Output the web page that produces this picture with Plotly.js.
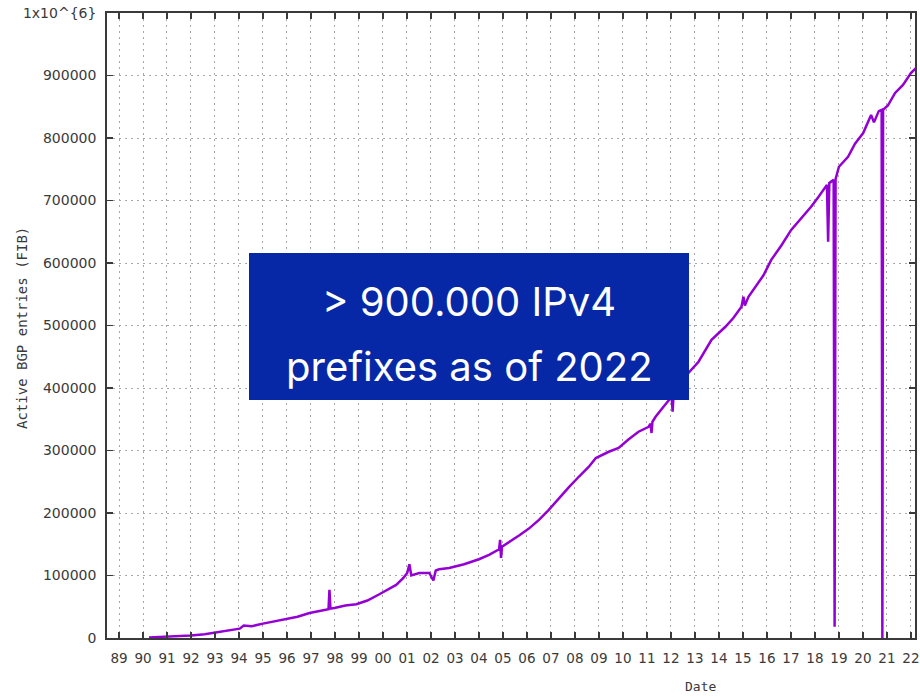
<!DOCTYPE html>
<html>
<head>
<meta charset="utf-8">
<script src="https://cdn.plot.ly/plotly-3.0.1.min.js"></script>
<style>html,body{margin:0;padding:0;background:#fff;}#chart{width:920px;height:697px;}</style>
</head>
<body>
<div id="chart"></div>
<script>
// Date in decimal years
const dates = [1990.25,1990.91,1992.0,1992.57,1993.03,1993.6,1994.03,1994.2,1994.53,1995.0,1995.5,1995.98,1996.44,1996.94,1997.44,1997.73,1997.77,1997.81,1997.98,1998.43,1998.89,1999.35,1999.85,2000.26,2000.55,2000.85,2001.01,2001.1,2001.18,2001.51,2001.93,2002.1,2002.2,2002.34,2002.76,2003.38,2004.0,2004.42,2004.84,2004.88,2004.92,2004.96,2005.25,2005.67,2006.08,2006.5,2006.91,2007.33,2007.74,2008.16,2008.58,2008.87,2009.41,2009.82,2010.24,2010.65,2011.07,2011.15,2011.19,2011.23,2011.36,2011.69,2012.03,2012.07,2012.11,2012.73,2013.15,2013.69,2013.98,2014.27,2014.6,2014.94,2015.02,2015.08,2015.23,2015.52,2015.85,2016.18,2016.6,2017.01,2017.43,2017.84,2018.13,2018.42,2018.5,2018.55,2018.6,2018.78,2018.82,2018.86,2019.0,2019.38,2019.67,2020.01,2020.34,2020.46,2020.66,2020.78,2020.81,2020.84,2021.04,2021.34,2021.67,2022.0,2022.21];
const entries = [1000,2000,4000,6000,9000,12000,15000,20000,19000,23000,27000,30000,34000,40000,44000,46000,77000,47000,48000,52000,54000,60000,70000,78000,85000,96000,104000,118000,100000,104000,104000,92000,108000,110000,112000,118000,126000,133000,142000,157000,128000,146000,153000,164000,175000,189000,205000,224000,241000,258000,274000,288000,298000,304000,318000,330000,338000,343000,328000,346000,354000,370000,386000,362000,390000,424000,442000,477000,487000,498000,512000,530000,546000,532000,546000,562000,580000,605000,628000,653000,672000,690000,705000,720000,725000,634000,728000,733000,18000,734000,754000,770000,791000,808000,837000,825000,843000,845000,0,845000,852000,872000,885000,904000,912000];

const yearTicks = [1989,1990,1991,1992,1993,1994,1995,1996,1997,1998,1999,2000,2001,2002,2003,2004,2005,2006,2007,2008,2009,2010,2011,2012,2013,2014,2015,2016,2017,2018,2019,2020,2021,2022];
const yearLabels = ["89","90","91","92","93","94","95","96","97","98","99","00","01","02","03","04","05","06","07","08","09","10","11","12","13","14","15","16","17","18","19","20","21","22"];
const yTicks = [0,100000,200000,300000,400000,500000,600000,700000,800000,900000,1000000];
const yLabels = ["0","100000","200000","300000","400000","500000","600000","700000","800000","900000","1x10^{6}"];

const axisCommon = {
  showline: true, linecolor: "#3a3a3a", linewidth: 1.8, mirror: "allticks",
  ticks: "inside", ticklen: 6, tickwidth: 1.4, tickcolor: "#3a3a3a",
  showgrid: true, gridcolor: "#a8a8a8", gridwidth: 1, griddash: "2px,4px",
  zeroline: false, fixedrange: true, ticklabeloverflow: "allow"
};

const data = [{
  x: dates, y: entries, type: "scatter", mode: "lines",
  line: {color: "#9400d3", width: 2.5}, hoverinfo: "skip", showlegend: false
}];

const layout = {
  width: 920, height: 697,
  margin: {l: 107, r: 5, t: 13, b: 59},
  paper_bgcolor: "#fff", plot_bgcolor: "#fff",
  xaxis: Object.assign({}, axisCommon, {
    range: [1988.5, 2022.17], tickmode: "array", tickvals: yearTicks, ticktext: yearLabels, ticklabelstandoff: 7,
    tickfont: {family: "DejaVu Sans", size: 13.5, color: "#3a3a3a"}
  }),
  yaxis: Object.assign({}, axisCommon, {
    range: [0, 1000000], tickmode: "array", tickvals: yTicks, ticktext: yLabels, ticklabelstandoff: 6,
    tickfont: {family: "DejaVu Sans", size: 14, color: "#3a3a3a"}
  }),
  shapes: [{
    type: "rect", xref: "paper", yref: "paper",
    x0: (249-107)/808, x1: (689-107)/808, y0: 1-(400-13)/625, y1: 1-(253-13)/625,
    fillcolor: "#0628a6", line: {width: 0}, layer: "above"
  }],
  annotations: [
    {text: "> 900.000 IPv4", xref: "paper", yref: "paper", x: (469-107)/808, y: 1-(302-13)/625,
     xanchor: "center", yanchor: "middle", showarrow: false,
     font: {family: "Inter", size: 40, color: "#ffffff"}},
    {text: "prefixes as of 2022", xref: "paper", yref: "paper", x: (469-107)/808, y: 1-(366-13)/625,
     xanchor: "center", yanchor: "middle", showarrow: false,
     font: {family: "Inter", size: 40, color: "#ffffff"}},
    {text: "Active BGP entries (FIB)", xref: "paper", yref: "paper", x: 0, y: 1-(328-13)/625,
     xshift: -85, xanchor: "center", yanchor: "middle", textangle: -90, showarrow: false,
     font: {family: "DejaVu Sans Mono", size: 14, color: "#3a3a3a"}},
    {text: "Date", xref: "paper", yref: "paper", x: (700-107)/808, y: 0, yshift: -48,
     xanchor: "center", yanchor: "middle", showarrow: false,
     font: {family: "DejaVu Sans Mono", size: 13, color: "#3a3a3a"}}
  ]
};

Plotly.newPlot("chart", data, layout, {staticPlot: true, displayModeBar: false});
</script>
</body>
</html>
